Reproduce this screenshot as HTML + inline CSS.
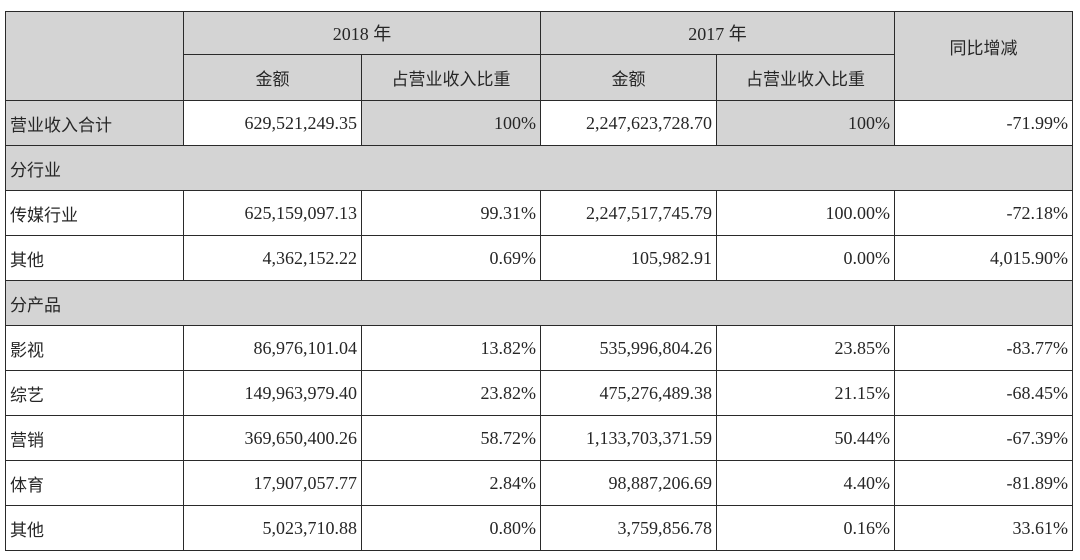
<!DOCTYPE html>
<html><head><meta charset="utf-8">
<style>
html,body{margin:0;padding:0;background:#fff;width:1080px;height:560px;overflow:hidden}
table{position:absolute;left:5px;top:11px;border-collapse:collapse;table-layout:fixed;
font-family:"Liberation Serif","Noto Sans CJK SC",serif;font-size:18px;color:#262626}
td{border:1.5px solid #2a2a2a;padding:0 4px;box-sizing:border-box;white-space:nowrap;overflow:hidden}
.g{background:#d4d4d4}
.c{text-align:center}
.r{text-align:right}
.l{text-align:left;font-family:"Noto Sans CJK SC",sans-serif;font-size:17px}
tr.d td{height:45px}
</style></head><body>
<table>
<colgroup><col style="width:178px"><col style="width:178px"><col style="width:179px"><col style="width:176px"><col style="width:178px"><col style="width:178px"></colgroup>
<tr style="height:43px">
<td class="g" rowspan="2"></td>
<td class="g c" colspan="2">2018 年</td>
<td class="g c" colspan="2">2017 年</td>
<td class="g c l" rowspan="2" style="text-align:center;padding-bottom:20px">同比增减</td>
</tr>
<tr style="height:46px">
<td class="g c l" style="text-align:center">金额</td>
<td class="g c l" style="text-align:center">占营业收入比重</td>
<td class="g c l" style="text-align:center">金额</td>
<td class="g c l" style="text-align:center">占营业收入比重</td>
</tr>
<tr class="d">
<td class="g l">营业收入合计</td><td class="r">629,521,249.35</td><td class="g r">100%</td><td class="r">2,247,623,728.70</td><td class="g r">100%</td><td class="r">-71.99%</td></tr>
<tr class="d"><td class="g l" colspan="6">分行业</td></tr>
<tr class="d"><td class="l">传媒行业</td><td class="r">625,159,097.13</td><td class="r">99.31%</td><td class="r">2,247,517,745.79</td><td class="r">100.00%</td><td class="r">-72.18%</td></tr>
<tr class="d"><td class="l">其他</td><td class="r">4,362,152.22</td><td class="r">0.69%</td><td class="r">105,982.91</td><td class="r">0.00%</td><td class="r">4,015.90%</td></tr>
<tr class="d"><td class="g l" colspan="6">分产品</td></tr>
<tr class="d"><td class="l">影视</td><td class="r">86,976,101.04</td><td class="r">13.82%</td><td class="r">535,996,804.26</td><td class="r">23.85%</td><td class="r">-83.77%</td></tr>
<tr class="d"><td class="l">综艺</td><td class="r">149,963,979.40</td><td class="r">23.82%</td><td class="r">475,276,489.38</td><td class="r">21.15%</td><td class="r">-68.45%</td></tr>
<tr class="d"><td class="l">营销</td><td class="r">369,650,400.26</td><td class="r">58.72%</td><td class="r">1,133,703,371.59</td><td class="r">50.44%</td><td class="r">-67.39%</td></tr>
<tr class="d"><td class="l">体育</td><td class="r">17,907,057.77</td><td class="r">2.84%</td><td class="r">98,887,206.69</td><td class="r">4.40%</td><td class="r">-81.89%</td></tr>
<tr class="d"><td class="l">其他</td><td class="r">5,023,710.88</td><td class="r">0.80%</td><td class="r">3,759,856.78</td><td class="r">0.16%</td><td class="r">33.61%</td></tr>
</table>
</body></html>
